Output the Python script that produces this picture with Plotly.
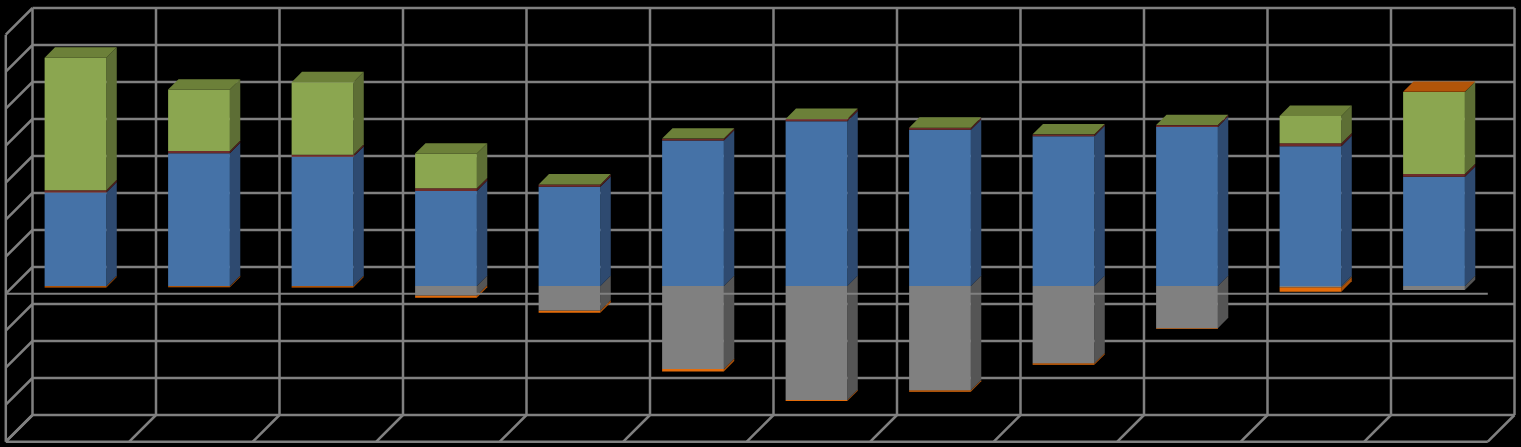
import plotly.graph_objects as go

# ---- data (value units: one gridline step = 10) ----
categories = list(range(12))
blue   = [25.3, 35.9, 34.9, 25.7, 26.8, 39.3, 44.5, 42.2, 40.5, 43.0, 37.8, 29.5]
maroon = [0.6, 0.6, 0.6, 0.7, 0.6, 0.5, 0.6, 0.55, 0.45, 0.45, 0.75, 0.75]
green  = [35.8, 16.6, 19.6, 9.4, 0.05, 0.05, 0.05, 0.05, 0.05, 0.05, 7.4, 22.2]
gray   = [-0.1, -0.05, -0.1, -2.6, -6.6, -22.4, -30.8, -28.2, -20.9, -11.4, -0.35, -1.1]
orange = [-0.3, -0.3, -0.3, -0.55, -0.65, -0.7, -0.3, -0.35, -0.4, -0.25, -1.2, 0.02]
grid_values = [-40, -30, -20, -10, 0, 10, 20, 30, 40, 50, 60, 70]

# ---- styles ----
series = [
    (blue,   "#4572A7", "#2E4A70", "#3A5F8C"),
    (maroon, "#6E2C2A", "#4E1F1D", "#5A2422"),
    (green,  "#8BA650", "#5D6E35", "#6C8039"),
    (gray,   "#808080", "#555555", "#6A6A6A"),
    (orange, "#E46C0A", "#A84F08", "#B25509"),
]
GRID = "#808080"
W, H = 1521, 447
PX_CAT = 123.5   # pixels per category
PX_UNIT = 3.7    # pixels per value unit
X0, Y0 = 32.5, 267.0      # pixel of category 0 / value 0 on the back wall
DEPTH_PX = 26.7
BAR_GAP = 0.252
BAR_W = 0.5
D_FRONT, D_BACK = 19 / DEPTH_PX, 8.6 / DEPTH_PX


def proj(c, v, d):
    """Oblique projection: d=0 back wall, d=1 front of the floor."""
    return c - d * DEPTH_PX / PX_CAT, v - d * DEPTH_PX / PX_UNIT


fig = go.Figure()


def poly(points, color):
    xs, ys = zip(*points)
    fig.add_trace(go.Scatter(
        x=list(xs) + [xs[0]], y=list(ys) + [ys[0]], mode="lines", fill="toself",
        fillcolor=color, line=dict(color=color, width=0), hoverinfo="skip", showlegend=False))


def lines(segments, width=2.5):
    xs, ys = [], []
    for a, b in segments:
        xs += [a[0], b[0], None]
        ys += [a[1], b[1], None]
    fig.add_trace(go.Scatter(x=xs, y=ys, mode="lines", line=dict(color=GRID, width=width),
                             hoverinfo="skip", showlegend=False))


# ---- walls and floor ----
n = len(categories)
vmin, vmax = grid_values[0], grid_values[-1]
seg = []
for v in grid_values:
    seg.append((proj(0, v, 0), proj(n, v, 0)))
    seg.append((proj(0, v, 0), proj(0, v, 1)))
for c in range(n + 1):
    seg.append((proj(c, vmin, 0), proj(c, vmax, 0)))
    seg.append((proj(c, vmin, 0), proj(c, vmin, 1)))
seg.append((proj(0, vmin, 1), proj(n, vmin, 1)))
seg.append((proj(0, vmin, 1), proj(0, vmax, 1)))
lines(seg)


def box(c, lo, hi, colors, top=False):
    x0, x1 = c + BAR_GAP, c + BAR_GAP + BAR_W
    front, side, cap = colors
    poly([proj(x1, lo, D_FRONT), proj(x1, lo, D_BACK), proj(x1, hi, D_BACK), proj(x1, hi, D_FRONT)], side)
    poly([proj(x0, lo, D_FRONT), proj(x1, lo, D_FRONT), proj(x1, hi, D_FRONT), proj(x0, hi, D_FRONT)], front)
    if top:
        poly([proj(x0, hi, D_FRONT), proj(x1, hi, D_FRONT), proj(x1, hi, D_BACK), proj(x0, hi, D_BACK)], cap)


# ---- bars: negative stack first (deepest first), then the positive stack ----
for i in categories:
    neg = []
    base = 0.0
    for vals, *cols in series:
        if vals[i] < 0:
            neg.append((base + vals[i], base, cols))
            base += vals[i]
    for lo, hi, cols in reversed(neg):
        box(i, lo, hi, cols)
    pos = [(vals[i], cols) for vals, *cols in series if vals[i] > 0]
    base = 0.0
    for k, (val, cols) in enumerate(pos):
        box(i, base, base + val, cols, top=k == len(pos) - 1)
        base += val

# ---- value-zero axis line at the front of the floor, over the bars ----
lines([(proj(0, 0, 1), proj(n, 0, 1))], width=2)

fig.update_layout(
    width=W, height=H, margin=dict(l=0, r=0, t=0, b=0),
    paper_bgcolor="#000000", plot_bgcolor="#000000", showlegend=False,
    xaxis=dict(visible=False, range=[-X0 / PX_CAT, (W - X0) / PX_CAT], fixedrange=True),
    yaxis=dict(visible=False, range=[(Y0 - H) / PX_UNIT, Y0 / PX_UNIT], fixedrange=True),
)
fig.write_html(
    "out.html",
    config={"displayModeBar": False},
    post_script="document.body.style.margin='0';document.body.style.background='#000';"
                "document.documentElement.style.overflow='hidden';",
)
